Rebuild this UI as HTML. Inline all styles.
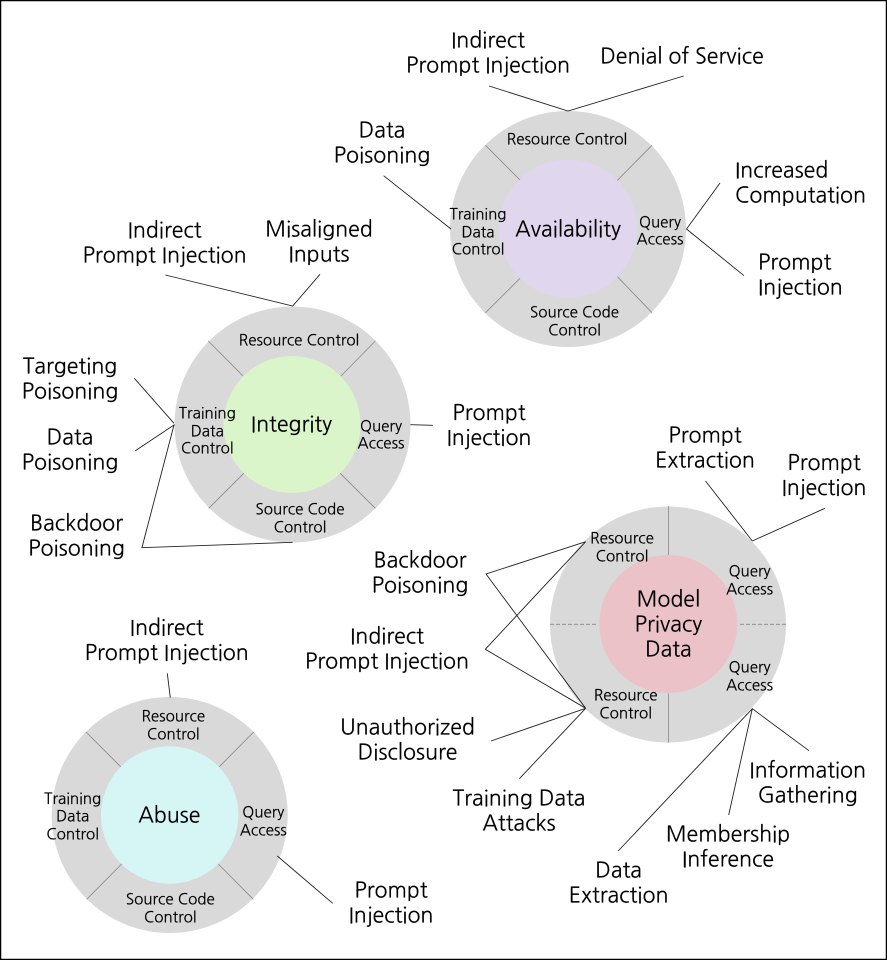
<!DOCTYPE html>
<html><head><meta charset="utf-8"><style>
html,body{margin:0;padding:0;background:#fff}
svg{display:block}
text{font-family:"NanumGothic","Liberation Sans",sans-serif;fill:#000;text-anchor:middle;stroke:#000;stroke-width:.2px}
.b{font-size:21.4px;transform:translateY(.5px)}
.s{font-size:15.2px;transform:translateY(.3px)}
text.st{text-anchor:start}
.l{stroke:#222;stroke-width:.9;fill:none}
.d{stroke:#888;stroke-width:.8;fill:none}
</style></head><body>
<svg width="887" height="960" viewBox="0 0 887 960" xmlns="http://www.w3.org/2000/svg">
<rect x="0.5" y="0.5" width="886" height="959" fill="#fff" stroke="#000" stroke-width="1.5"/>

<!-- Availability -->
<circle cx="568" cy="229" r="118" fill="#d9d9d9"/>
<circle cx="568" cy="228.5" r="69" fill="#e0d7ef"/>
<path class="d" d="M485.5 145.3L520 180M652 145.3L617.4 180.3M520 278.3L485.5 312.7M617.4 276.7L652 312.7"/>
<path class="l" d="M489 86L568 111L683.7 76M383.6 175.7L451 229M720 183L686.5 229L744 275.7"/>
<text class="b" x="488" y="47">Indirect</text><text class="b" x="488" y="72">Prompt Injection</text>
<text class="b" x="682" y="63">Denial of Service</text>
<text class="b" x="382" y="137">Data</text><text class="b" x="382" y="162">Poisoning</text>
<text class="b st" x="735" y="177">Increased</text><text class="b st" x="735" y="202">Computation</text>
<text class="b st" x="758" y="269">Prompt</text><text class="b st" x="758" y="294">Injection</text>
<text class="b" x="568" y="236">Availability</text>
<text class="s" x="567" y="144">Resource Control</text>
<text class="s" x="478" y="219">Training</text><text class="s" x="478" y="237">Data</text><text class="s" x="478" y="254">Control</text>
<text class="s" x="660" y="227">Query</text><text class="s" x="660" y="244">Access</text>
<text class="s" x="574.5" y="317">Source Code</text><text class="s" x="574.5" y="335">Control</text>

<!-- Integrity -->
<circle cx="292.5" cy="424.5" r="118" fill="#d9d9d9"/>
<circle cx="292" cy="424.5" r="68.5" fill="#daf5c9"/>
<path class="d" d="M208.3 341L242.8 375.7M375.3 341L341 376M243.8 473.3L208.7 508.3M340.2 473.3L375.3 508.3"/>
<path class="l" d="M165.3 275L292.7 306L320 274.3M134.3 378.3L174 423.3M135.3 450.7L174 425L141.9 547.7L292.7 542.3M410.5 424.7L432.9 425.3"/>
<text class="b" x="164.6" y="237">Indirect</text><text class="b" x="164.6" y="262">Prompt Injection</text>
<text class="b" x="319" y="236">Misaligned</text><text class="b" x="319" y="261">Inputs</text>
<text class="b" x="70" y="373">Targeting</text><text class="b" x="70" y="398">Poisoning</text>
<text class="b" x="70" y="444">Data</text><text class="b" x="70" y="469">Poisoning</text>
<text class="b" x="76.5" y="530">Backdoor</text><text class="b" x="76.5" y="555">Poisoning</text>
<text class="b" x="489" y="419.5">Prompt</text><text class="b" x="489" y="444.5">Injection</text>
<text class="b" x="291.5" y="431">Integrity</text>
<text class="s" x="299" y="345">Resource Control</text>
<text class="s" x="207.3" y="418">Training</text><text class="s" x="207.3" y="436">Data</text><text class="s" x="207.3" y="453">Control</text>
<text class="s" x="381" y="431">Query</text><text class="s" x="381" y="448">Access</text>
<text class="s" x="300" y="514">Source Code</text><text class="s" x="300" y="532">Control</text>

<!-- Model Privacy Data -->
<circle cx="668" cy="624.5" r="118" fill="#d9d9d9"/>
<circle cx="668.3" cy="624" r="69" fill="#ecc2c9"/>
<path class="d" d="M668.4 506V555M668.4 693.3V742.7"/>
<path class="d" stroke-dasharray="4 2" d="M550 624.3H597.6M740 624.3H786"/>
<path class="l" d="M705.5 481L752.3 541L824.9 508.3M585.7 541.7L486 574L585.7 708.3M585.7 541.7L485.3 649.3L585.7 708.3M491 741L585.7 708.3L519.4 778.7M809 750.7L752.3 708.7L728.7 815M752.3 708.7L618.2 851"/>
<text class="b" x="705" y="442">Prompt</text><text class="b" x="705" y="467">Extraction</text>
<text class="b" x="824" y="469.5">Prompt</text><text class="b" x="824" y="494.5">Injection</text>
<text class="b" x="420" y="567">Backdoor</text><text class="b" x="420" y="592">Poisoning</text>
<text class="b" x="387" y="643">Indirect</text><text class="b" x="387" y="668">Prompt Injection</text>
<text class="b" x="407.5" y="734">Unauthorized</text><text class="b" x="407.5" y="759">Disclosure</text>
<text class="b" x="519" y="805">Training Data</text><text class="b" x="519" y="830">Attacks</text>
<text class="b" x="618.6" y="877">Data</text><text class="b" x="618.6" y="902">Extraction</text>
<text class="b" x="728" y="841">Membership</text><text class="b" x="728" y="866">Inference</text>
<text class="b" x="807.7" y="777">Information</text><text class="b" x="807.7" y="802">Gathering</text>
<text class="b" x="668.4" y="606">Model</text><text class="b" x="668.4" y="631">Privacy</text><text class="b" x="668.4" y="656">Data</text>
<text class="s" x="622" y="543">Resource</text><text class="s" x="622" y="561">Control</text>
<text class="s" x="625.7" y="700">Resource</text><text class="s" x="625.7" y="718">Control</text>
<text class="s" x="749.6" y="576">Query</text><text class="s" x="749.6" y="594">Access</text>
<text class="s" x="749.6" y="672">Query</text><text class="s" x="749.6" y="690">Access</text>

<!-- Abuse -->
<circle cx="169.7" cy="815" r="118" fill="#d9d9d9"/>
<circle cx="169.7" cy="815" r="68.7" fill="#d6f6f6"/>
<path class="d" d="M86 732L120.7 766.7M253.7 732L219.3 766.7M121.7 864L86.7 899.3M218.3 864L253.3 899.3"/>
<path class="l" d="M167.3 673.3L170.3 697.7M277.3 856L332.7 903.3"/>
<text class="b" x="166.7" y="634.5">Indirect</text><text class="b" x="166.7" y="659.5">Prompt Injection</text>
<text class="b" x="391" y="897">Prompt</text><text class="b" x="391" y="922">Injection</text>
<text class="b" x="169.3" y="822">Abuse</text>
<text class="s" x="173.3" y="721">Resource</text><text class="s" x="173.3" y="739">Control</text>
<text class="s" x="72.7" y="803.5">Training</text><text class="s" x="72.7" y="821">Data</text><text class="s" x="72.7" y="839">Control</text>
<text class="s" x="263.3" y="817">Query</text><text class="s" x="263.3" y="835">Access</text>
<text class="s" x="170.3" y="904">Source Code</text><text class="s" x="170.3" y="922">Control</text>
</svg>
</body></html>
